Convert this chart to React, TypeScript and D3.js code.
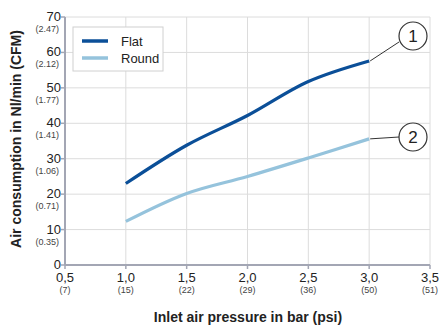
import { useEffect, useRef } from "react";
import * as d3 from "d3";

const pressures = [1.0, 1.5, 2.0, 2.5, 3.0];
const flatValues = [23, 33.8, 42.2, 51.8, 57.6];
const roundValues = [12.3, 20.2, 25, 30.2, 35.6];

const xTicks = [0.5, 1.0, 1.5, 2.0, 2.5, 3.0, 3.5];
const xPsi = ["(7)", "(15)", "(22)", "(29)", "(36)", "(50)", "(51)"];
const yTicks = [0, 10, 20, 30, 40, 50, 60, 70];
const yCfm = ["", "(0.35)", "(0.71)", "(1.06)", "(1.41)", "(1.77)", "(2.12)", "(2.47)"];

const seriesNames = ["Flat", "Round"];
const seriesColors = ["#0b4f98", "#95c3dc"];

const W = 440;
const H = 329;
const margin = { top: 17, right: 10, bottom: 64, left: 65 };

const App = () => {
  const ref = useRef<SVGSVGElement>(null);

  useEffect(() => {
    const svg = d3.select(ref.current);
    svg.selectAll("*").remove();

    const x = d3.scaleLinear().domain([0.5, 3.5]).range([margin.left, W - margin.right]);
    const y = d3.scaleLinear().domain([0, 70]).range([H - margin.bottom, margin.top]);

    const font = "Liberation Sans, Arial, sans-serif";

    // grid
    const grid = svg.append("g").attr("stroke", "#dcdcdc").attr("stroke-width", 1);
    grid
      .selectAll("line.v")
      .data(xTicks.slice(1))
      .enter()
      .append("line")
      .attr("x1", (d) => x(d))
      .attr("x2", (d) => x(d))
      .attr("y1", y(0))
      .attr("y2", y(70));
    grid
      .selectAll("line.h")
      .data(yTicks.slice(1))
      .enter()
      .append("line")
      .attr("x1", x(0.5))
      .attr("x2", x(3.5))
      .attr("y1", (d) => y(d))
      .attr("y2", (d) => y(d));

    // axes
    const axisColor = "#a3a6b4";
    svg
      .append("line")
      .attr("x1", x(0.5))
      .attr("x2", x(3.5))
      .attr("y1", y(0))
      .attr("y2", y(0))
      .attr("stroke", axisColor)
      .attr("stroke-width", 2);
    svg
      .append("line")
      .attr("x1", x(0.5))
      .attr("x2", x(0.5))
      .attr("y1", y(0))
      .attr("y2", y(70))
      .attr("stroke", axisColor)
      .attr("stroke-width", 2);

    // x ticks
    const xt = svg
      .selectAll("g.xt")
      .data(xTicks)
      .enter()
      .append("g")
      .attr("transform", (d) => `translate(${x(d)},${y(0)})`);
    xt.append("line").attr("y1", 0).attr("y2", 4).attr("stroke", axisColor).attr("stroke-width", 1.5);
    xt.append("text")
      .attr("y", 17)
      .attr("text-anchor", "middle")
      .attr("font-family", font)
      .attr("font-size", 13)
      .attr("fill", "#222")
      .text((d) => d.toFixed(1).replace(".", ","));
    xt.append("text")
      .attr("y", 28)
      .attr("text-anchor", "middle")
      .attr("font-family", font)
      .attr("font-size", 9)
      .attr("fill", "#444")
      .text((d, i) => xPsi[i]);

    // y ticks
    const yt = svg
      .selectAll("g.yt")
      .data(yTicks)
      .enter()
      .append("g")
      .attr("transform", (d) => `translate(${x(0.5)},${y(d)})`);
    yt.append("line").attr("x1", -4).attr("x2", 0).attr("stroke", axisColor).attr("stroke-width", 1.5);
    yt.append("text")
      .attr("x", -4)
      .attr("y", 4)
      .attr("text-anchor", "end")
      .attr("font-family", font)
      .attr("font-size", 13)
      .attr("fill", "#222")
      .text((d) => d);
    yt.append("text")
      .attr("x", -6)
      .attr("y", 15)
      .attr("text-anchor", "end")
      .attr("font-family", font)
      .attr("font-size", 9)
      .attr("fill", "#444")
      .text((d, i) => yCfm[i]);

    // lines
    const line = d3
      .line<number>()
      .x((d, i) => x(pressures[i]))
      .y((d) => y(d))
      .curve(d3.curveCatmullRom.alpha(0.5));
    [flatValues, roundValues].forEach((vals, k) => {
      svg
        .append("path")
        .attr("d", line(vals))
        .attr("fill", "none")
        .attr("stroke", seriesColors[k])
        .attr("stroke-width", 3.2);
    });

    // callouts
    const callouts = [
      { v: flatValues[flatValues.length - 1], cy: 36, label: "1" },
      { v: roundValues[roundValues.length - 1], cy: 137, label: "2" },
    ];
    const cx = 413;
    callouts.forEach((c) => {
      const sx = x(3.0) + 1;
      const sy = y(c.v);
      svg
        .append("line")
        .attr("x1", sx)
        .attr("y1", sy)
        .attr("x2", cx - 14)
        .attr("y2", c.cy + (c.label === "1" ? 6 : 0))
        .attr("stroke", "#333")
        .attr("stroke-width", 1);
      svg
        .append("circle")
        .attr("cx", cx)
        .attr("cy", c.cy)
        .attr("r", 14)
        .attr("fill", "#fff")
        .attr("stroke", "#333")
        .attr("stroke-width", 1.2);
      svg
        .append("text")
        .attr("x", cx)
        .attr("y", c.cy + 6)
        .attr("text-anchor", "middle")
        .attr("font-family", font)
        .attr("font-size", 17)
        .attr("fill", "#222")
        .text(c.label);
    });

    // legend
    const lg = svg.append("g").attr("transform", "translate(73,27)");
    lg.append("rect")
      .attr("width", 90)
      .attr("height", 44)
      .attr("fill", "#fff")
      .attr("stroke", "#d0d0d0")
      .attr("stroke-width", 1);
    seriesNames.forEach((name, i) => {
      lg.append("line")
        .attr("x1", 9)
        .attr("x2", 35)
        .attr("y1", 14 + i * 17)
        .attr("y2", 14 + i * 17)
        .attr("stroke", seriesColors[i])
        .attr("stroke-width", 3.5);
      lg.append("text")
        .attr("x", 48)
        .attr("y", 19 + i * 17)
        .attr("font-family", font)
        .attr("font-size", 13)
        .attr("fill", "#222")
        .text(name);
    });

    // axis titles
    svg
      .append("text")
      .attr("x", 248)
      .attr("y", 322)
      .attr("text-anchor", "middle")
      .attr("font-family", font)
      .attr("font-weight", "bold")
      .attr("font-size", 14)
      .attr("fill", "#222")
      .text("Inlet air pressure in bar (psi)");
    svg
      .append("text")
      .attr("transform", `translate(21,${(y(0) + y(70)) / 2 - 2}) rotate(-90)`)
      .attr("text-anchor", "middle")
      .attr("font-family", font)
      .attr("font-weight", "bold")
      .attr("font-size", 14)
      .attr("fill", "#222")
      .text("Air consumption in Nl/min (CFM)");
  }, []);

  return <svg ref={ref} width={W} height={H} style={{ position: "absolute", left: 0, top: 0 }} />;
};

export default App;
